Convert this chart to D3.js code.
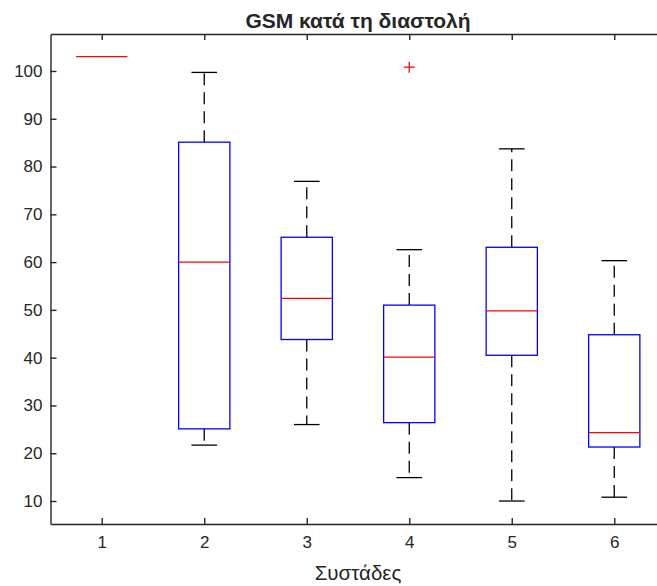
<!DOCTYPE html>
<html>
<head>
<meta charset="utf-8">
<script src="https://cdn.jsdelivr.net/npm/d3@7"></script>
<style>
  body { margin: 0; background: #fff; }
  text { font-family: "Liberation Sans", Arial, sans-serif; fill: #262626; }
</style>
</head>
<body>
<div id="chart-body"></div>
<script>
const groups = [1, 2, 3, 4, 5, 6];
const whiskerLow  = [103, 21.7, 26.0, 14.9, 10.0, 10.8];
const q1          = [103, 25.1, 43.8, 26.4, 40.5, 21.3];
const median      = [103, 60.0, 52.4, 40.1, 49.8, 24.3];
const q3          = [103, 85.1, 65.2, 51.0, 63.1, 44.8];
const whiskerHigh = [103, 99.7, 76.9, 62.6, 83.7, 60.3];
const outliers = [{ group: 4, value: 100.8 }];
const yTicks = [10, 20, 30, 40, 50, 60, 70, 80, 90, 100];

const w = 657;
const h = 586;
const mLeft = 50.5, mRight = 665.5, mTop = 34, mBottom = 524;

const x = d3.scaleLinear().domain([0.5, 6.5]).range([mLeft, mRight]);
const y = d3.scaleLinear().domain([5.19, 107.74]).range([mBottom, mTop]);

const svg = d3.select("#chart-body")
              .append("svg")
              .attr("width", w)
              .attr("height", h);

const boxes = groups.map((g, i) => ({
  g, lo: whiskerLow[i], q1: q1[i], med: median[i], q3: q3[i], hi: whiskerHigh[i]
}));

const halfBox = 0.25, halfCap = 0.125;

// whiskers (dashed)
const wk = svg.append("g").attr("stroke", "#000").attr("stroke-width", 1.3)
              .attr("stroke-dasharray", "12,7");
wk.selectAll(".up").data(boxes.filter(d => d.hi > d.q3)).enter().append("line")
  .attr("x1", d => x(d.g)).attr("x2", d => x(d.g))
  .attr("y1", d => y(d.q3)).attr("y2", d => y(d.hi));
wk.selectAll(".dn").data(boxes.filter(d => d.lo < d.q1)).enter().append("line")
  .attr("x1", d => x(d.g)).attr("x2", d => x(d.g))
  .attr("y1", d => y(d.q1)).attr("y2", d => y(d.lo));

// caps
const caps = svg.append("g").attr("stroke", "#000").attr("stroke-width", 1.3);
boxes.filter(d => d.hi > d.q3).forEach(d => {
  caps.append("line").attr("x1", x(d.g - halfCap)).attr("x2", x(d.g + halfCap))
      .attr("y1", y(d.hi)).attr("y2", y(d.hi));
});
boxes.filter(d => d.lo < d.q1).forEach(d => {
  caps.append("line").attr("x1", x(d.g - halfCap)).attr("x2", x(d.g + halfCap))
      .attr("y1", y(d.lo)).attr("y2", y(d.lo));
});

// boxes
svg.append("g").selectAll("rect").data(boxes.filter(d => d.q3 > d.q1)).enter().append("rect")
   .attr("x", d => x(d.g - halfBox))
   .attr("y", d => y(d.q3))
   .attr("width", d => x(d.g + halfBox) - x(d.g - halfBox))
   .attr("height", d => y(d.q1) - y(d.q3))
   .attr("fill", "none")
   .attr("stroke", "#0000ff")
   .attr("stroke-width", 1.3);

// medians
svg.append("g").selectAll("line").data(boxes).enter().append("line")
   .attr("x1", d => x(d.g - halfBox)).attr("x2", d => x(d.g + halfBox))
   .attr("y1", d => y(d.med)).attr("y2", d => y(d.med))
   .attr("stroke", "#ff0000")
   .attr("stroke-width", 1.3);

// outliers
svg.append("g").selectAll("path").data(outliers).enter().append("path")
   .attr("transform", d => `translate(${x(d.group)},${y(d.value)})`)
   .attr("d", "M-5.5,0H5.5M0,-5.5V5.5")
   .attr("stroke", "#ff0000")
   .attr("stroke-width", 1.3)
   .attr("fill", "none");

// axes
const axisColor = "#262626";
const yAxis = svg.append("g").attr("transform", `translate(${mLeft},0)`)
   .call(d3.axisLeft(y).tickValues(yTicks).tickSize(-6).tickPadding(8).tickSizeOuter(0));
const xAxis = svg.append("g").attr("transform", `translate(0,${mBottom})`)
   .call(d3.axisBottom(x).tickValues(groups).tickFormat(d3.format("d"))
         .tickSize(-6).tickPadding(12).tickSizeOuter(0));
const xTop = svg.append("g").attr("transform", `translate(0,${mTop})`)
   .call(d3.axisTop(x).tickValues(groups).tickSize(-6).tickFormat("").tickSizeOuter(0));

[yAxis, xAxis, xTop].forEach(a => {
  a.select(".domain").attr("stroke", axisColor).attr("stroke-width", 1.4);
  a.selectAll(".tick line").attr("stroke", axisColor).attr("stroke-width", 1.4);
  a.selectAll("text").attr("font-size", 17).attr("fill", axisColor)
   .attr("font-family", "'Liberation Sans', Arial, sans-serif");
});

svg.append("text")
   .attr("x", x(3.5)).attr("y", 28)
   .attr("text-anchor", "middle")
   .attr("font-size", 21).attr("font-weight", "bold")
   .attr("fill", "#000")
   .text("GSM κατά τη διαστολή");

svg.append("text")
   .attr("x", x(3.5)).attr("y", 580)
   .attr("text-anchor", "middle")
   .attr("font-size", 20.5)
   .text("Συστάδες");
</script>
</body>
</html>
